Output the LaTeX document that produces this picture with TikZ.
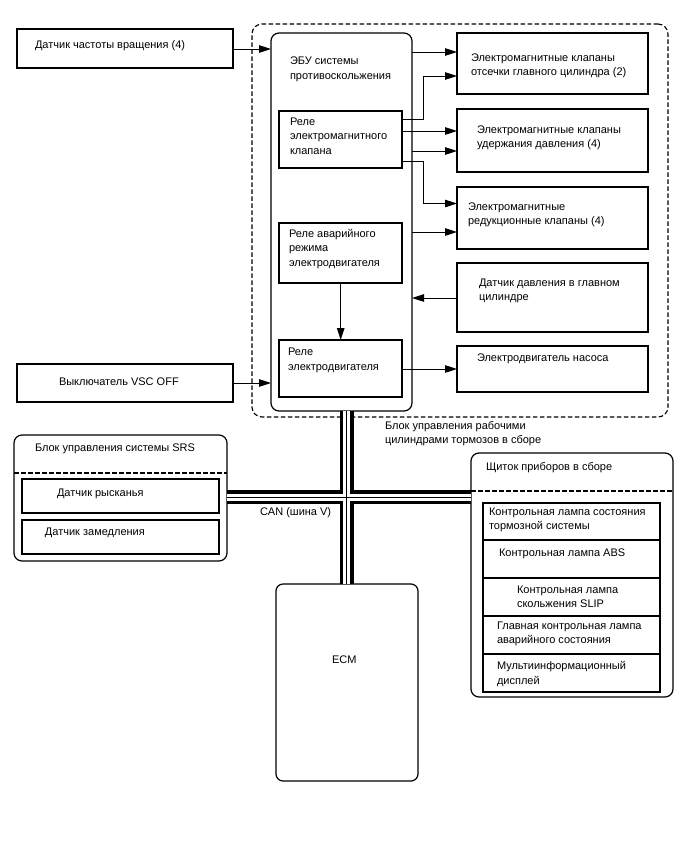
\documentclass[tikz,border=0pt]{standalone}
\usepackage{fontspec}
\setmainfont{Liberation Sans}
\usetikzlibrary{arrows.meta,fit}
\begin{document}
\begin{tikzpicture}[x=1pt,y=-1pt,
  box/.style={draw, line width=1.2pt, rectangle, inner sep=0pt, outer sep=0pt},
  rbox/.style={box, rounded corners=8pt},
  txt/.style={inner sep=0pt, outer sep=0pt, anchor=west, align=left, font=\fontsize{11}{14.5}\selectfont},
  arr/.style={-{Triangle[length=12pt,width=7.5pt]}, line width=1pt},
  dashbox/.style={draw, dash pattern=on 4.5pt off 2.5pt, line width=1.1pt, rounded corners=10pt, inner sep=0pt, outer sep=0pt},
  divider/.style={dash pattern=on 4.5pt off 2.5pt, line width=1.1pt}
]
\useasboundingbox[fill=white] (0,0) rectangle (688,852);

% outer dashed group
\node[dashbox, fit={(252,24) (668,417)}] (grp) {};

% main units
\node[rbox, fit={(271,33) (412,411)}] (ecu) {};
\node[rbox, fit={(14,435) (227,561)}] (srs) {};
\node[rbox, fit={(276,584) (418,781)}, rounded corners=7pt] (ecm) {};
\node[rbox, fit={(471,453) (673,697)}] (combi) {};

% CAN bus
\coordinate (bx) at (346.7,0);
\coordinate (by) at (0,497);
\foreach \w/\c in {14pt/black, 7pt/white, 1pt/black} {
  \draw[line width=\w, draw=\c] (ecu.south -| bx) -- (ecm.north -| bx);
  \draw[line width=\w, draw=\c] (srs.east |- by) -- (combi.west |- by);
}

% left inputs
\node[box, fit={(17,29) (233,68)}] (speed) {};
\node[box, fit={(17,364) (233,402)}] (vsc) {};

% relays inside ECU
\node[box, fit={(279,111) (402,168)}] (relv) {};
\node[box, fit={(279,223) (402,283)}] (rele) {};
\node[box, fit={(279,340) (402,397)}] (relm) {};

% right boxes
\node[box, fit={(457,33) (648,94)}] (va) {};
\node[box, fit={(457,109) (648,172)}] (vb) {};
\node[box, fit={(457,187) (648,249)}] (vc) {};
\node[box, fit={(457,263) (648,332)}] (pd) {};
\node[box, fit={(457,346) (648,392)}] (pump) {};

% SRS inner boxes
\coordinate (srsd) at (0,473);
\draw[divider] (srs.west |- srsd) -- (srs.east |- srsd);
\node[box, fit={(22,479) (219,513)}] (yaw) {};
\node[box, fit={(22,520) (219,554)}] (decel) {};

% combination meter
\coordinate (cmd) at (0,491);
\draw[divider] (combi.west |- cmd) -- (combi.east |- cmd);
\node[box, fit={(483,503) (660,540)}] (r1) {};
\node[box, fit={(483,540) (660,578)}] (r2) {};
\node[box, fit={(483,578) (660,616)}] (r3) {};
\node[box, fit={(483,616) (660,654)}] (r4) {};
\node[box, fit={(483,654) (660,692)}] (r5) {};

% texts
\node[txt] (t1) at (35,46) {Датчик частоты вращения (4)};
\node[txt] (t2) at (59,382) {Выключатель VSC OFF};
\node[txt] (t3) at (290,69.5) {ЭБУ системы\\противоскольжения};
\node[txt] (t4) at (290,136) {Реле\\электромагнитного\\клапана};
\node[txt] (t5) at (289,249) {Реле аварийного\\режима\\электродвигателя};
\node[txt] (t6) at (288,360.5) {Реле\\электродвигателя};
\node[txt] (t7) at (471,66) {Электромагнитные клапаны\\отсечки главного цилиндра (2)};
\node[txt] (t8) at (477,138) {Электромагнитные клапаны\\удержания давления (4)};
\node[txt] (t9) at (468,215) {Электромагнитные\\редукционные клапаны (4)};
\node[txt] (t10) at (479,291) {Датчик давления в главном\\цилиндре};
\node[txt] (t11) at (477,359) {Электродвигатель насоса};
\node[txt] (t12) at (35,449) {Блок управления системы SRS};
\node[txt] (t13) at (57,494) {Датчик рысканья};
\node[txt] (t14) at (45,533) {Датчик замедления};
\node[txt] (t15) at (260,513) {CAN (шина V)};
\node[txt] (t16) at (385,433.7) {Блок управления рабочими\\цилиндрами тормозов в сборе};
\node[txt] (t17) at (486,468) {Щиток приборов в сборе};
\node[txt] (t18) at (489,520) {Контрольная лампа состояния\\тормозной системы};
\node[txt] (t19) at (499,554) {Контрольная лампа ABS};
\node[txt] (t20) at (517,597) {Контрольная лампа\\скольжения SLIP};
\node[txt] (t21) at (497,634) {Главная контрольная лампа\\аварийного состояния};
\node[txt] (t22) at (497,674) {Мультиинформационный\\дисплей};
\node[txt, anchor=center] (t23) at (344.3,660) {ECM};

% connector levels
\coordinate (ya) at (0,49);
\coordinate (yb) at (0,383);
\coordinate (yc) at (0,52);
\coordinate (yd) at (0,119.5);
\coordinate (ye) at (0,76);
\coordinate (yf) at (0,131);
\coordinate (yg) at (0,151);
\coordinate (yh) at (0,161);
\coordinate (yi) at (0,203.5);
\coordinate (yj) at (0,232);
\coordinate (yk) at (0,298);
\coordinate (yl) at (0,369);
\coordinate (xm) at (423,0);
\coordinate (xr) at (340.7,0);

\draw[arr] (speed.east |- ya) -- (ecu.west |- ya);
\draw[arr] (vsc.east |- yb) -- (ecu.west |- yb);
\draw[arr] (ecu.east |- yc) -- (va.west |- yc);
\draw[arr] (relv.east |- yd) -- (xm |- yd) -- (xm |- ye) -- (va.west |- ye);
\draw[arr] (relv.east |- yf) -- (vb.west |- yf);
\draw[arr] (ecu.east |- yg) -- (vb.west |- yg);
\draw[arr] (relv.east |- yh) -- (xm |- yh) -- (xm |- yi) -- (vc.west |- yi);
\draw[arr] (ecu.east |- yj) -- (vc.west |- yj);
\draw[arr] (pd.west |- yk) -- (ecu.east |- yk);
\draw[arr] (relm.east |- yl) -- (pump.west |- yl);
\draw[arr] (rele.south -| xr) -- (relm.north -| xr);
\end{tikzpicture}
\end{document}
